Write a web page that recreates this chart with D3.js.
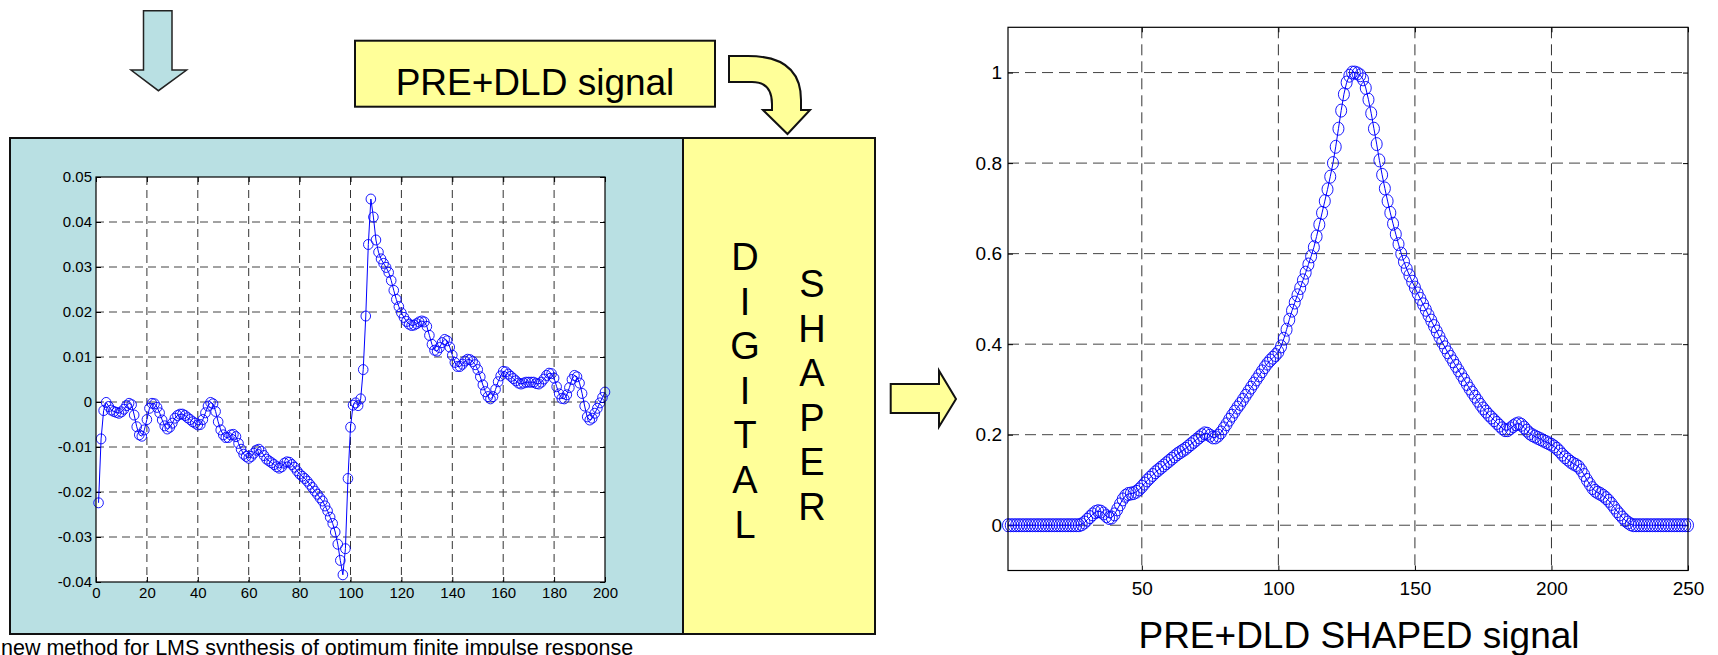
<!DOCTYPE html>
<html>
<head>
<meta charset="utf-8">
<script src="https://cdn.jsdelivr.net/npm/d3@7"></script>
<style>
  body { margin: 0; background: #fff; }
  svg { display: block; font-family: "Liberation Sans", Arial, sans-serif; }
</style>
</head>
<body>
<div id="chart"></div>
<script>
// impulse response (left plot), sample n = 1..200
const leftValues = [
  -0.0224, -0.0082, -0.0019, -0.0001, -0.0010, -0.0018, -0.0021, -0.0023, -0.0025, -0.0022,
  -0.0016, -0.0008, -0.0003, -0.0006, -0.0029, -0.0055, -0.0073, -0.0076, -0.0062, -0.0039,
  -0.0014, -0.0003, -0.0004, -0.0012, -0.0024, -0.0040, -0.0053, -0.0060, -0.0056, -0.0047,
  -0.0036, -0.0030, -0.0027, -0.0027, -0.0030, -0.0035, -0.0039, -0.0044, -0.0047, -0.0051,
  -0.0050, -0.0039, -0.0024, -0.0009, -0.0001, -0.0004, -0.0021, -0.0044, -0.0062, -0.0073,
  -0.0079, -0.0079, -0.0073, -0.0072, -0.0077, -0.0092, -0.0105, -0.0116, -0.0121, -0.0125,
  -0.0121, -0.0114, -0.0107, -0.0105, -0.0110, -0.0119, -0.0127, -0.0131, -0.0135, -0.0139,
  -0.0144, -0.0147, -0.0144, -0.0136, -0.0133, -0.0134, -0.0139, -0.0145, -0.0153, -0.0160,
  -0.0165, -0.0170, -0.0176, -0.0183, -0.0190, -0.0198, -0.0205, -0.0213, -0.0220, -0.0231,
  -0.0242, -0.0256, -0.0270, -0.0289, -0.0316, -0.0352, -0.0384, -0.0326, -0.0170, -0.0056,
  -0.0007, -0.0002, -0.0008, 0.0007, 0.0072, 0.0191, 0.0350, 0.0451, 0.0411, 0.0360,
  0.0333, 0.0318, 0.0308, 0.0299, 0.0288, 0.0270, 0.0248, 0.0228, 0.0212, 0.0198,
  0.0188, 0.0179, 0.0173, 0.0170, 0.0171, 0.0174, 0.0178, 0.0180, 0.0178, 0.0168,
  0.0148, 0.0128, 0.0115, 0.0113, 0.0121, 0.0132, 0.0139, 0.0136, 0.0122, 0.0104,
  0.0088, 0.0079, 0.0079, 0.0084, 0.0091, 0.0095, 0.0094, 0.0090, 0.0083, 0.0072,
  0.0056, 0.0038, 0.0023, 0.0012, 0.0007, 0.0012, 0.0028, 0.0045, 0.0058, 0.0068,
  0.0067, 0.0062, 0.0057, 0.0052, 0.0047, 0.0042, 0.0040, 0.0042, 0.0044, 0.0044,
  0.0044, 0.0044, 0.0041, 0.0040, 0.0044, 0.0051, 0.0059, 0.0064, 0.0063, 0.0053,
  0.0034, 0.0018, 0.0008, 0.0007, 0.0016, 0.0032, 0.0050, 0.0059, 0.0056, 0.0042,
  0.0019, -0.0009, -0.0033, -0.0040, -0.0036, -0.0025, -0.0014, -0.0002, 0.0010, 0.0022
];

// shaped signal (right plot), sample n = 1..250
const rightValues = [
  0, 0, 0, 0, 0, 0, 0, 0, 0, 0,
  0, 0, 0, 0, 0, 0, 0, 0, 0, 0,
  0, 0, 0, 0, 0, 0, 0, 0.002, 0.006, 0.012,
  0.018, 0.024, 0.029, 0.031, 0.030, 0.026, 0.020, 0.016, 0.017, 0.024,
  0.035, 0.046, 0.057, 0.065, 0.069, 0.070, 0.071, 0.074, 0.079, 0.085,
  0.092, 0.099, 0.105, 0.111, 0.117, 0.122, 0.127, 0.132, 0.137, 0.142,
  0.147, 0.152, 0.157, 0.161, 0.165, 0.169, 0.174, 0.179, 0.184, 0.189,
  0.194, 0.199, 0.203, 0.202, 0.198, 0.194, 0.194, 0.198, 0.205, 0.214,
  0.223, 0.233, 0.242, 0.251, 0.260, 0.268, 0.277, 0.286, 0.295, 0.304,
  0.313, 0.322, 0.331, 0.340, 0.349, 0.357, 0.364, 0.370, 0.376, 0.383,
  0.395, 0.412, 0.432, 0.454, 0.474, 0.492, 0.508, 0.524, 0.541, 0.558,
  0.576, 0.594, 0.614, 0.638, 0.664, 0.690, 0.716, 0.742, 0.770, 0.800,
  0.836, 0.876, 0.916, 0.952, 0.978, 0.993, 1.000, 1.000, 0.998, 0.994,
  0.985, 0.966, 0.940, 0.910, 0.876, 0.842, 0.806, 0.774, 0.744, 0.716,
  0.690, 0.666, 0.643, 0.621, 0.600, 0.582, 0.566, 0.552, 0.538, 0.525,
  0.512, 0.500, 0.488, 0.476, 0.464, 0.452, 0.440, 0.428, 0.416, 0.404,
  0.393, 0.382, 0.372, 0.362, 0.352, 0.342, 0.332, 0.322, 0.312, 0.302,
  0.293, 0.284, 0.275, 0.266, 0.258, 0.251, 0.244, 0.238, 0.232, 0.226,
  0.220, 0.214, 0.210, 0.210, 0.214, 0.219, 0.223, 0.225, 0.222, 0.216,
  0.209, 0.203, 0.199, 0.196, 0.193, 0.190, 0.187, 0.184, 0.181, 0.178,
  0.174, 0.169, 0.163, 0.156, 0.150, 0.145, 0.140, 0.136, 0.133, 0.129,
  0.121, 0.111, 0.100, 0.091, 0.082, 0.076, 0.072, 0.069, 0.065, 0.060,
  0.054, 0.047, 0.039, 0.031, 0.024, 0.017, 0.011, 0.006, 0.002, 0,
  0, 0, 0, 0, 0, 0, 0, 0, 0, 0,
  0, 0, 0, 0, 0, 0, 0, 0, 0, 0
];

const leftXTicks = [0, 20, 40, 60, 80, 100, 120, 140, 160, 180, 200];
const leftYTicks = [-0.04, -0.03, -0.02, -0.01, 0, 0.01, 0.02, 0.03, 0.04, 0.05];
const leftYTickLabels = ["-0.04", "-0.03", "-0.02", "-0.01", "0", "0.01", "0.02", "0.03", "0.04", "0.05"];
const rightXTicks = [50, 100, 150, 200, 250];
const rightYTicks = [0, 0.2, 0.4, 0.6, 0.8, 1];
const rightYTickLabels = ["0", "0.2", "0.4", "0.6", "0.8", "1"];

const inputLabel = "PRE+DLD signal";
const shaperWords = ["DIGITAL", "SHAPER"];
const outputLabel = "PRE+DLD SHAPED signal";
const footnote = "new method for LMS synthesis of optimum finite impulse response";

const width = 1718;
const height = 655;
const teal = "#b9e0e3";
const yellow = "#ffff99";
const blue = "#0000ff";

const svg = d3.select("#chart")
    .append("svg")
    .attr("width", width)
    .attr("height", height);

// ---- diagram boxes and arrows ----
svg.append("path")
    .attr("d", "M143.5,10.7 H172 V70 H186.6 L158.4,90.7 L131,70 H143.5 Z")
    .attr("fill", teal).attr("stroke", "#222").attr("stroke-width", 1.5);

svg.append("rect")
    .attr("x", 355).attr("y", 40.7).attr("width", 360).attr("height", 66)
    .attr("fill", yellow).attr("stroke", "#111").attr("stroke-width", 2);
svg.append("text")
    .attr("x", 535).attr("y", 95)
    .attr("text-anchor", "middle")
    .attr("font-size", "37px")
    .text(inputLabel);

svg.append("path")
    .attr("d", "M729,56 H748 Q801,56 801,100 V110 H810 L787.5,134 L763,110 H772 V104 Q772,82 752,82 H729 Z")
    .attr("fill", yellow).attr("stroke", "#111").attr("stroke-width", 2);

svg.append("rect")
    .attr("x", 10).attr("y", 138).attr("width", 673).attr("height", 496)
    .attr("fill", teal).attr("stroke", "#111").attr("stroke-width", 2);
svg.append("rect")
    .attr("x", 683).attr("y", 138).attr("width", 192).attr("height", 496)
    .attr("fill", yellow).attr("stroke", "#111").attr("stroke-width", 2);

// vertical words inside the shaper box
const wordPos = [{ x: 745, y0: 270 }, { x: 812, y0: 297 }];
shaperWords.forEach((w, k) => {
    svg.append("g").selectAll("text")
        .data(w.split(""))
        .enter()
        .append("text")
        .attr("x", wordPos[k].x)
        .attr("y", (d, i) => wordPos[k].y0 + i * 44.6)
        .attr("text-anchor", "middle")
        .attr("font-size", "38px")
        .text(d => d);
});

svg.append("path")
    .attr("d", "M890.7,384 H939 V370.7 L956,399 L939,426.7 V413 H890.7 Z")
    .attr("fill", yellow).attr("stroke", "#111").attr("stroke-width", 2);

// ---- generic matlab-style plot ----
function drawPlot(opts) {
    const g = svg.append("g");
    const x = d3.scaleLinear().domain(opts.xDomain).range([opts.left, opts.right]);
    const y = d3.scaleLinear().domain(opts.yDomain).range([opts.bottom, opts.top]);

    g.append("rect")
        .attr("x", opts.left).attr("y", opts.top)
        .attr("width", opts.right - opts.left).attr("height", opts.bottom - opts.top)
        .attr("fill", "#fff");

    // dashed grid
    g.selectAll("line.vgrid")
        .data(opts.xTicks.filter(t => t > opts.xDomain[0] && t < opts.xDomain[1]))
        .enter().append("line")
        .attr("x1", d => x(d)).attr("x2", d => x(d))
        .attr("y1", opts.top).attr("y2", opts.bottom)
        .attr("stroke", "#333").attr("stroke-width", 1)
        .attr("stroke-dasharray", opts.dash);
    g.selectAll("line.hgrid")
        .data(opts.yTicks.filter(t => t > opts.yDomain[0] && t < opts.yDomain[1]))
        .enter().append("line")
        .attr("x1", opts.left).attr("x2", opts.right)
        .attr("y1", d => y(d)).attr("y2", d => y(d))
        .attr("stroke", "#444").attr("stroke-width", 1)
        .attr("stroke-dasharray", opts.dash);

    // axes with inward ticks
    const fs = opts.fontSize + "px";
    const ax = g.append("g")
        .attr("transform", `translate(0,${opts.bottom})`)
        .call(d3.axisBottom(x).tickValues(opts.xTicks).tickSizeInner(-5).tickSizeOuter(0)
            .tickPadding(opts.xPad).tickFormat(d3.format("d")));
    const ay = g.append("g")
        .attr("transform", `translate(${opts.left},0)`)
        .call(d3.axisLeft(y).tickValues(opts.yTicks).tickSizeInner(-5).tickSizeOuter(0)
            .tickPadding(opts.yPad).tickFormat((d, i) => opts.yLabels[i]));
    const at = g.append("g")
        .attr("transform", `translate(0,${opts.top})`)
        .call(d3.axisTop(x).tickValues(opts.xTicks).tickSizeInner(-5).tickSizeOuter(0).tickFormat(""));
    const ar = g.append("g")
        .attr("transform", `translate(${opts.right},0)`)
        .call(d3.axisRight(y).tickValues(opts.yTicks).tickSizeInner(-5).tickSizeOuter(0).tickFormat(""));
    [ax, ay, at, ar].forEach(a => {
        a.select(".domain").remove();
        a.selectAll("line").attr("stroke", "#000");
        a.selectAll("text")
            .attr("font-family", "'Liberation Sans', Arial, sans-serif")
            .attr("font-size", fs)
            .attr("fill", "#000");
    });

    // data line and circle markers
    const line = d3.line()
        .x((d, i) => x(i + 1))
        .y(d => y(d));
    g.append("path")
        .datum(opts.values)
        .attr("d", line)
        .attr("fill", "none")
        .attr("stroke", blue)
        .attr("stroke-width", 1);
    g.selectAll("ellipse.mk")
        .data(opts.values)
        .enter().append("ellipse")
        .attr("cx", (d, i) => x(i + 1))
        .attr("cy", d => y(d))
        .attr("rx", opts.rx).attr("ry", opts.ry)
        .attr("fill", "none")
        .attr("stroke", blue)
        .attr("stroke-width", 0.9);

    g.append("rect")
        .attr("x", opts.left).attr("y", opts.top)
        .attr("width", opts.right - opts.left).attr("height", opts.bottom - opts.top)
        .attr("fill", "none").attr("stroke", "#000").attr("stroke-width", 1.2);
}

drawPlot({
    values: leftValues,
    xDomain: [0, 200], yDomain: [-0.04, 0.05],
    left: 96, right: 605, top: 177, bottom: 582,
    xTicks: leftXTicks, yTicks: leftYTicks, yLabels: leftYTickLabels,
    fontSize: 15, xPad: 5.5, yPad: 4,
    dash: "8,5", rx: 4.8, ry: 5
});

drawPlot({
    values: rightValues,
    xDomain: [1, 250], yDomain: [-0.1, 1.1],
    left: 1008, right: 1688, top: 27.3, bottom: 570.5,
    xTicks: rightXTicks, yTicks: rightYTicks, yLabels: rightYTickLabels,
    fontSize: 19, xPad: 11, yPad: 6,
    dash: "11,6", rx: 5.5, ry: 6.5
});

svg.append("text")
    .attr("x", 1359).attr("y", 648)
    .attr("text-anchor", "middle")
    .attr("font-size", "37px")
    .text(outputLabel);

// footnote runs off the bottom edge in the original slide
svg.append("text")
    .attr("x", 1).attr("y", 655)
    .attr("font-size", "21.5px")
    .text(footnote);
</script>
</body>
</html>
